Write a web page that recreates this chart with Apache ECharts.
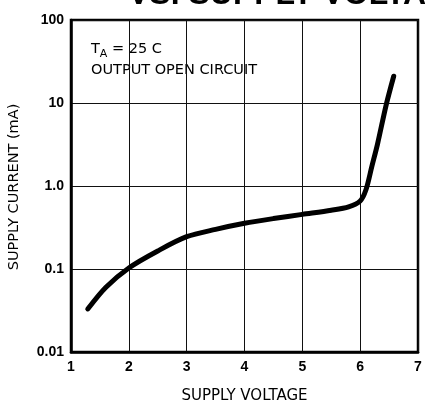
<!DOCTYPE html>
<html>
<head>
<meta charset="utf-8">
<script src="https://cdn.jsdelivr.net/npm/echarts@6/dist/echarts.min.js"></script>
<style>html,body{margin:0;padding:0;background:#fff;}#c{width:425px;height:405px;}</style>
</head>
<body>
<div id="c"></div>
<script>
var voltage = [1.29, 1.6, 2.0, 2.5, 3.0, 3.5, 4.0, 4.5, 5.0, 5.5, 5.8, 6.0, 6.1, 6.2, 6.3, 6.45, 6.58];
var current = [0.033, 0.060, 0.103, 0.165, 0.245, 0.30, 0.355, 0.405, 0.455, 0.51, 0.56, 0.66, 0.9, 1.7, 3.2, 9.5, 21];
var yTickLabels = {"0.01": "0.01", "0.1": "0.1", "1": "1.0", "10": "10", "100": "100"};
var xTickLabels = ["1", "2", "3", "4", "5", "6", "7"];

var chart = echarts.init(document.getElementById('c'), null, {renderer: 'canvas'});
var font = 'Liberation Sans, Arial, Helvetica, sans-serif';
var font2 = 'DejaVu Sans, sans-serif';
chart.setOption({
  animation: false,
  backgroundColor: '#fff',
  grid: {left: 71, right: 7, top: 20, bottom: 53, show: true, borderColor: '#000', borderWidth: 2.5, containLabel: false, outerBoundsMode: 'none'},
  graphic: [
    {type: 'text', left: 128, top: -21, style: {text: 'VS. SUPPLY VOLTAGE', font: 'bold 32px ' + font, fill: '#000'}},
    {type: 'text', left: 91, top: 42, style: {
      text: '{t|T}{s|A}{t| = 25 C}\n{t|OUTPUT OPEN CIRCUIT}',
      rich: {t: {font: '14.5px ' + font2, fill: '#000', lineHeight: 21}, s: {font: '11px ' + font2, fill: '#000', verticalAlign: 'bottom', padding: [5,0,0,0]}}
    }},
    {type: 'text', rotation: Math.PI / 2, x: 14, y: 187,
      style: {text: 'SUPPLY CURRENT (mA)', font: '14.5px ' + font2, fill: '#000', align: 'center', verticalAlign: 'middle'}}
  ],
  xAxis: {
    type: 'value', min: 1, max: 7, interval: 1,
    name: 'SUPPLY VOLTAGE', nameLocation: 'middle', nameGap: 37,
    nameTextStyle: {color: '#000', fontFamily: font2, fontSize: 15},
    axisLine: {show: true, lineStyle: {color: '#000', width: 2.5}},
    axisTick: {show: false},
    splitLine: {show: true, lineStyle: {color: '#111', width: 1}},
    axisLabel: {color: '#000', fontFamily: font, fontSize: 14, fontWeight: 'bold', margin: 8,
      formatter: function (v) { return xTickLabels[Math.round(v) - 1]; }}
  },
  yAxis: {
    type: 'log', logBase: 10, min: 0.01, max: 100,
    axisLine: {show: true, lineStyle: {color: '#000', width: 2.5}},
    axisTick: {show: false},
    minorTick: {show: false},
    splitLine: {show: true, lineStyle: {color: '#111', width: 1}},
    axisLabel: {color: '#000', fontFamily: font, fontSize: 14, fontWeight: 'bold', margin: 7,
      formatter: function (v) {
        var k = String(Math.round(Math.log10(v)));
        var map = {"-2": yTickLabels["0.01"], "-1": yTickLabels["0.1"], "0": yTickLabels["1"], "1": yTickLabels["10"], "2": yTickLabels["100"]};
        return map[k];
      }}
  },
  series: [{
    type: 'line',
    data: voltage.map(function (v, i) { return [v, current[i]]; }),
    smooth: 0.3,
    showSymbol: false,
    lineStyle: {color: '#000', width: 5, cap: 'round'}
  }]
});
</script>
</body>
</html>
